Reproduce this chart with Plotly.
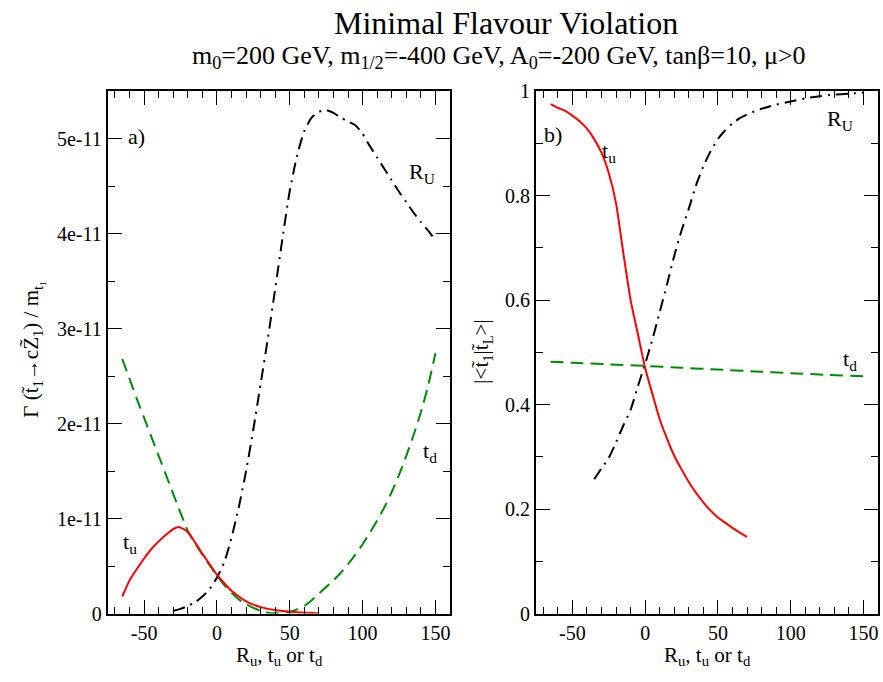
import plotly.graph_objects as go

SCALE = 1e-11

# ---------------- Panel a): Gamma / m (units of 1e-11) ----------------
tu_a_x = [-65, -60, -55, -50, -45, -40, -35, -30, -27, -25, -20, -15, -10, -5, 0, 5, 10, 15,
          20, 25, 30, 35, 40, 45, 50, 55, 60, 65, 70]
tu_a_y = [0.18, 0.35, 0.47, 0.58, 0.68, 0.76, 0.83, 0.89, 0.91, 0.905, 0.86, 0.75, 0.63, 0.52,
          0.41, 0.32, 0.24, 0.18, 0.13, 0.095, 0.068, 0.05, 0.038, 0.028, 0.02, 0.014, 0.01,
          0.006, 0.004]

td_a_x = [-65, -60, -55, -50, -45, -40, -35, -30, -25, -20, -15, -10, -5, 0, 5, 10, 15, 20,
          25, 30, 35, 40, 45, 50, 55, 60, 65, 70, 75, 80, 85, 90, 95, 100, 105, 110, 115,
          120, 125, 130, 135, 140, 145, 150]
td_a_y = [2.68, 2.47, 2.26, 2.06, 1.86, 1.66, 1.46, 1.26, 1.06, 0.87, 0.74, 0.62, 0.51, 0.40,
          0.30, 0.22, 0.15, 0.10, 0.06, 0.03, 0.01, 0.003, 0.004, 0.02, 0.045, 0.08, 0.14,
          0.21, 0.28, 0.35, 0.43, 0.52, 0.62, 0.73, 0.85, 0.98, 1.12, 1.28, 1.46, 1.66,
          1.88, 2.12, 2.40, 2.74]

ru_a_x = [-30, -25, -20, -15, -10, -5, 0, 5, 10, 15, 20, 25, 30, 35, 40, 45, 50, 55, 60, 65,
          70, 75, 80, 85, 90, 95, 100, 105, 110, 115, 120, 125, 130, 135, 140, 145, 150]
ru_a_y = [0.03, 0.05, 0.08, 0.12, 0.18, 0.26, 0.38, 0.54, 0.80, 1.12, 1.50, 1.94, 2.42, 2.90,
          3.42, 3.95, 4.45, 4.82, 5.08, 5.22, 5.28, 5.30, 5.27, 5.22, 5.18, 5.14, 5.05, 4.92,
          4.80, 4.68, 4.56, 4.44, 4.33, 4.22, 4.12, 4.03, 3.93]

# ---------------- Panel b): overlap |<t1|tL>| ----------------
tu_b_x = [-65, -60, -55, -50, -45, -40, -35, -30, -25, -20, -15, -10, -5, 0, 5, 10, 15, 20,
          25, 30, 35, 40, 45, 50, 55, 60, 65, 70]
tu_b_y = [0.975, 0.968, 0.962, 0.953, 0.942, 0.928, 0.908, 0.882, 0.843, 0.785, 0.69, 0.60,
          0.535, 0.47, 0.42, 0.372, 0.335, 0.302, 0.276, 0.252, 0.231, 0.213, 0.197, 0.184,
          0.174, 0.164, 0.155, 0.147]

td_b_x = [-65, -50, -25, 0, 25, 50, 75, 100, 125, 150]
td_b_y = [0.482, 0.480, 0.477, 0.474, 0.4705, 0.467, 0.4635, 0.460, 0.457, 0.454]

ru_b_x = [-35, -30, -25, -20, -15, -10, -5, 0, 5, 10, 15, 20, 25, 30, 35, 40, 45, 50, 55, 60,
          65, 70, 75, 80, 90, 100, 110, 120, 130, 140, 150]
ru_b_y = [0.257, 0.278, 0.298, 0.328, 0.36, 0.39, 0.435, 0.478, 0.525, 0.577, 0.63, 0.685,
          0.733, 0.775, 0.82, 0.856, 0.885, 0.908, 0.925, 0.938, 0.948, 0.955, 0.961, 0.966,
          0.974, 0.98, 0.986, 0.99, 0.993, 0.995, 0.997]

# ---------------- Ticks ----------------
x_tick_vals = [-50, 0, 50, 100, 150]
x_tick_text = ["-50", "0", "50", "100", "150"]
ya_tick_vals = [0, 1, 2, 3, 4, 5]
ya_tick_text = ["0", "1e-11", "2e-11", "3e-11", "4e-11", "5e-11"]
yb_tick_vals = [0, 0.2, 0.4, 0.6, 0.8, 1.0]
yb_tick_text = ["0", "0.2", "0.4", "0.6", "0.8", "1"]

FONT = "Liberation Serif"
W, H = 883, 682

RED = "#ff0000"
GREEN = "#008c00"
BLACK = "#000000"
DASH = "13px,7px"
DASHDOT = "12px,6px,2px,6px"

fig = go.Figure()


def add(x, y, color, dash, xa, ya, scale=1.0):
    fig.add_trace(go.Scatter(x=x, y=[v * scale for v in y], mode="lines",
                             line=dict(color=color, width=2, dash=dash, shape="spline",
                                       smoothing=0.6),
                             xaxis=xa, yaxis=ya, showlegend=False, hoverinfo="skip"))


add(td_a_x, td_a_y, GREEN, DASH, "x", "y", SCALE)
add(ru_a_x, ru_a_y, BLACK, DASHDOT, "x", "y", SCALE)
add(tu_a_x, tu_a_y, RED, "solid", "x", "y", SCALE)

add(td_b_x, td_b_y, GREEN, DASH, "x2", "y2")
add(ru_b_x, ru_b_y, BLACK, DASHDOT, "x2", "y2")
add(tu_b_x, tu_b_y, RED, "solid", "x2", "y2")

axis_common = dict(showgrid=False, zeroline=False, showline=True, linecolor="black",
                   linewidth=2, mirror="allticks", ticks="inside", ticklen=14, tickwidth=1,
                   tickcolor="black", tickfont=dict(family=FONT, size=20, color="black"))

xdomA = [107.7 / W, 450 / W]
xdomB = [536 / W, 878 / W]
ydom = [1 - 622.7 / H, 1 - 82.7 / H]

fig.update_layout(
    width=W, height=H, margin=dict(l=0, r=0, t=0, b=0),
    paper_bgcolor="white", plot_bgcolor="white",
    font=dict(family=FONT, color="black"),
    xaxis=dict(domain=xdomA, range=[-75, 160], anchor="y", tickmode="array",
               tickvals=x_tick_vals, ticktext=x_tick_text,
               minor=dict(tickmode="linear", tick0=0, dtick=10, ticklen=7, ticks="inside",
                          tickcolor="black", tickwidth=1),
               **axis_common),
    yaxis=dict(domain=ydom, range=[0, 5.5 * SCALE], anchor="x", tickmode="array",
               tickvals=[v * SCALE for v in ya_tick_vals], ticktext=ya_tick_text,
               minor=dict(tickmode="linear", tick0=0, dtick=0.5 * SCALE, ticklen=7,
                          ticks="inside", tickcolor="black", tickwidth=1),
               **axis_common),
    xaxis2=dict(domain=xdomB, range=[-75, 160], anchor="y2", tickmode="array",
                tickvals=x_tick_vals, ticktext=x_tick_text,
                minor=dict(tickmode="linear", tick0=0, dtick=10, ticklen=7, ticks="inside",
                           tickcolor="black", tickwidth=1),
                **axis_common),
    yaxis2=dict(domain=ydom, range=[0, 1], anchor="x2", tickmode="array",
                tickvals=yb_tick_vals, ticktext=yb_tick_text,
                minor=dict(tickmode="linear", tick0=0, dtick=0.1, ticklen=7,
                           ticks="inside", tickcolor="black", tickwidth=1),
                **axis_common),
)


def pann(text, px, py, size, angle=0):
    fig.add_annotation(text=text, x=px / W, y=1 - py / H, xref="paper", yref="paper",
                       showarrow=False, textangle=angle, xanchor="center", yanchor="middle",
                       font=dict(family=FONT, size=size, color="black"))


def dann(text, x, y, xr, yr, size=22):
    fig.add_annotation(text=text, x=x, y=y, xref=xr, yref=yr, showarrow=False,
                       xanchor="center", yanchor="middle",
                       font=dict(family=FONT, size=size, color="black"))


# Titles
pann("Minimal Flavour Violation", 506, 12, 32)
pann("m<sub>0</sub>=200 GeV, m<sub>1/2</sub>=-400 GeV, A<sub>0</sub>=-200 GeV, tanβ=10, μ&gt;0",
     499, 48, 26)

# Axis titles
pann("R<sub>u</sub>, t<sub>u</sub> or t<sub>d</sub>", 279, 666, 21)
pann("R<sub>u</sub>, t<sub>u</sub> or t<sub>d</sub>", 707, 666, 21)
pann("Γ (t\u0303<sub>1</sub>→cZ\u0303<sub>1</sub>) / m<sub>t₁</sub>", 33, 350, 21, -90)
pann("|&lt;t\u0303<sub>1</sub>|t\u0303<sub>L</sub>&gt;|", 482, 352, 21, -90)

# In-plot labels
dann("a)", -55.3, 5.02 * SCALE, "x", "y")
dann("R<sub>U</sub>", 140.6, 4.64 * SCALE, "x", "y")
dann("t<sub>d</sub>", 146, 1.70 * SCALE, "x", "y")
dann("t<sub>u</sub>", -59.4, 0.74 * SCALE, "x", "y")

dann("b)", -63, 0.916, "x2", "y2")
dann("t<sub>u</sub>", -24.7, 0.884, "x2", "y2")
dann("R<sub>U</sub>", 133.6, 0.944, "x2", "y2")
dann("t<sub>d</sub>", 141, 0.486, "x2", "y2")

fig.write_html("out.html")
